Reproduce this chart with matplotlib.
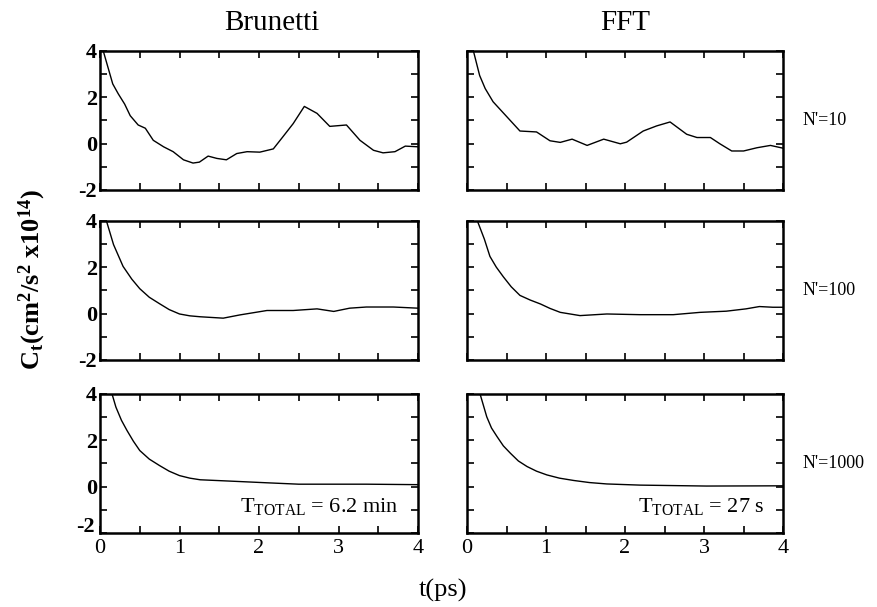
import matplotlib
matplotlib.use("Agg")
import matplotlib.pyplot as plt
from matplotlib.ticker import MultipleLocator
from matplotlib.transforms import ScaledTranslation

plt.rcParams["font.family"] = ["Liberation Serif", "DejaVu Serif"]
plt.rcParams["mathtext.fontset"] = "custom"
plt.rcParams["mathtext.rm"] = "Liberation Serif"
plt.rcParams["mathtext.bf"] = "Liberation Serif:bold"
plt.rcParams["mathtext.it"] = "Liberation Serif:italic"

# Column titles and row labels
methods = ["Brunetti", "FFT"]
row_labels = ["N'=10", "N'=100", "N'=1000"]
total_times = ["6.2 min", "27 s"]

# Velocity autocorrelation C_t (x10^14 cm^2/s^2) versus t (ps)
t_brunetti_10 = [0.04, 0.16, 0.23, 0.31, 0.38, 0.48, 0.57, 0.67, 0.80, 0.92, 1.05, 1.17,
                 1.25, 1.36, 1.47, 1.59, 1.72, 1.85, 2.01, 2.18, 2.30, 2.43, 2.57, 2.73,
                 2.89, 3.10, 3.27, 3.44, 3.56, 3.71, 3.84, 4.00]
c_brunetti_10 = [4.00, 2.57, 2.14, 1.70, 1.20, 0.80, 0.66, 0.14, -0.14, -0.35, -0.70, -0.84,
                 -0.80, -0.54, -0.64, -0.70, -0.43, -0.35, -0.37, -0.23, 0.29, 0.86, 1.60, 1.30,
                 0.74, 0.80, 0.14, -0.29, -0.40, -0.35, -0.11, -0.14]

t_fft_10 = [0.08, 0.16, 0.23, 0.33, 0.50, 0.67, 0.88, 1.05, 1.18, 1.33, 1.52, 1.73, 1.94,
            2.02, 2.23, 2.40, 2.57, 2.78, 2.91, 3.08, 3.20, 3.35, 3.50, 3.67, 3.84, 4.00]
c_fft_10 = [4.00, 2.93, 2.37, 1.80, 1.17, 0.54, 0.50, 0.12, 0.05, 0.19, -0.08, 0.19, -0.01,
            0.06, 0.54, 0.76, 0.93, 0.40, 0.26, 0.26, -0.01, -0.32, -0.32, -0.18, -0.08, -0.20]

t_brunetti_100 = [0.08, 0.17, 0.29, 0.40, 0.50, 0.62, 0.75, 0.87, 1.00, 1.13, 1.26, 1.55,
                  1.76, 2.10, 2.43, 2.73, 2.94, 3.14, 3.35, 3.69, 4.00]
c_brunetti_100 = [4.00, 2.97, 2.03, 1.48, 1.07, 0.70, 0.42, 0.17, -0.02, -0.10, -0.14, -0.20,
                  -0.06, 0.13, 0.13, 0.20, 0.09, 0.23, 0.28, 0.28, 0.23]

t_fft_100 = [0.13, 0.22, 0.29, 0.37, 0.46, 0.56, 0.67, 0.80, 0.93, 1.05, 1.18, 1.43, 1.77,
             2.19, 2.61, 2.95, 3.28, 3.53, 3.70, 3.87, 4.00]
c_fft_100 = [4.00, 3.20, 2.46, 2.00, 1.58, 1.15, 0.78, 0.58, 0.41, 0.22, 0.05, -0.09, -0.02,
             -0.05, -0.05, 0.05, 0.10, 0.20, 0.30, 0.27, 0.27]

t_brunetti_1000 = [0.15, 0.20, 0.27, 0.34, 0.42, 0.50, 0.62, 0.75, 0.87, 1.00, 1.13, 1.26,
                   1.59, 2.10, 2.50, 2.93, 3.35, 4.00]
c_brunetti_1000 = [4.00, 3.42, 2.85, 2.41, 1.95, 1.55, 1.18, 0.90, 0.66, 0.47, 0.36, 0.29,
                   0.24, 0.16, 0.10, 0.10, 0.10, 0.08]

t_fft_1000 = [0.17, 0.25, 0.31, 0.38, 0.46, 0.55, 0.65, 0.76, 0.88, 1.01, 1.17, 1.35, 1.55,
              1.77, 2.19, 3.03, 4.00]
c_fft_1000 = [3.93, 3.00, 2.52, 2.15, 1.75, 1.43, 1.10, 0.86, 0.66, 0.50, 0.36, 0.26, 0.17,
              0.11, 0.06, 0.02, 0.03]

series = [
    [(t_brunetti_10, c_brunetti_10), (t_fft_10, c_fft_10)],
    [(t_brunetti_100, c_brunetti_100), (t_fft_100, c_fft_100)],
    [(t_brunetti_1000, c_brunetti_1000), (t_fft_1000, c_fft_1000)],
]

x_ticks = [0, 1, 2, 3, 4]
y_ticks = [-2, 0, 2, 4]

fig = plt.figure(figsize=(8.78, 6.07), dpi=100)

col_left = [0.1139, 0.5319]
col_width = [0.3622, 0.360]
row_bottom = [0.687, 0.407, 0.122]
row_height = 0.2295

axes = []
for r in range(3):
    row_axes = []
    for c in range(2):
        ax = fig.add_axes([col_left[c], row_bottom[r], col_width[c], row_height])
        t, v = series[r][c]
        ax.plot(t, v, color="black", lw=1.0, solid_joinstyle="round")
        ax.set_xlim(0, 4)
        ax.set_ylim(-2, 4)
        ax.xaxis.set_major_locator(MultipleLocator(1))
        ax.xaxis.set_minor_locator(MultipleLocator(0.5))
        ax.yaxis.set_major_locator(MultipleLocator(2))
        ax.yaxis.set_minor_locator(MultipleLocator(1))
        ax.tick_params(which="both", direction="in", top=True, right=True,
                       length=5, width=1.2, color="black")
        for s in ax.spines.values():
            s.set_linewidth(1.8)
            s.set_color("black")
        if c == 0:
            ax.set_yticks(y_ticks)
            ax.set_yticklabels([str(y) for y in y_ticks], fontsize=16,
                               fontweight="bold")
            ax.tick_params(axis="y", which="major", pad=2)
        else:
            ax.set_yticklabels([])
        if r == 2:
            ax.set_xticks(x_ticks)
            ax.set_xticklabels([str(x) for x in x_ticks], fontsize=16)
            ax.tick_params(axis="x", which="major", pad=4)
            ax.text(0.94, 0.19,
                    r"T$_{\mathregular{TOTAL}}$ = " + total_times[c],
                    transform=ax.transAxes, ha="right", va="center", fontsize=16)
        else:
            ax.set_xticklabels([])
        row_axes.append(ax)
    axes.append(row_axes)

# Lift the lowest "-2" a little so it clears the "0" of the time axis
low_label = axes[2][0].get_yticklabels()[0]
low_label.set_transform(low_label.get_transform()
                        + ScaledTranslation(-2 / 72, 6 / 72, fig.dpi_scale_trans))

# Column headings
fig.text(272 / 878, 1 - 23 / 607, methods[0], ha="center", va="center", fontsize=21)
fig.text(625 / 878, 1 - 23 / 607, methods[1], ha="center", va="center", fontsize=21)

# Row labels on the right
for r in range(3):
    yc = row_bottom[r] + row_height / 2
    fig.text(803 / 878, yc, row_labels[r], ha="left", va="center", fontsize=13)

# Shared axis labels
fig.text(32 / 878, 1 - 280 / 607,
         r"$\mathbf{C_t(cm^2/s^2\ x10^{14})}$",
         rotation=90, ha="center", va="center", fontsize=19)
fig.text(443 / 878, 1 - 590 / 607, "t(ps)", ha="center", va="center", fontsize=19)

fig.savefig("out.png", dpi=100, facecolor="white")
